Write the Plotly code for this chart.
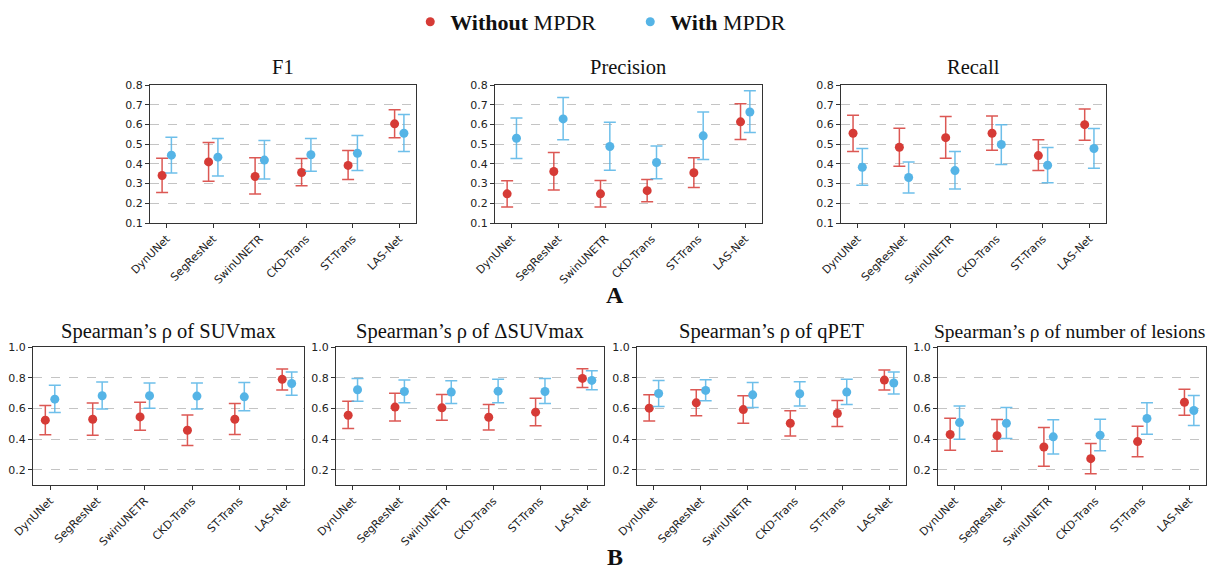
import plotly.graph_objects as go

models = ["DynUNet", "SegResNet", "SwinUNETR", "CKD-Trans", "ST-Trans", "LAS-Net"]

# ---- Row A ----
f1_wo_mean = [0.341, 0.410, 0.336, 0.356, 0.392, 0.603]
f1_wo_lo = [0.255, 0.312, 0.247, 0.289, 0.321, 0.532]
f1_wo_hi = [0.429, 0.508, 0.431, 0.427, 0.468, 0.675]
f1_w_mean = [0.444, 0.434, 0.419, 0.446, 0.454, 0.555]
f1_w_lo = [0.353, 0.339, 0.323, 0.363, 0.366, 0.463]
f1_w_hi = [0.535, 0.528, 0.518, 0.528, 0.544, 0.650]

prec_wo_mean = [0.248, 0.361, 0.248, 0.264, 0.355, 0.613]
prec_wo_lo = [0.181, 0.267, 0.181, 0.208, 0.280, 0.523]
prec_wo_hi = [0.314, 0.458, 0.316, 0.321, 0.431, 0.705]
prec_w_mean = [0.530, 0.628, 0.488, 0.407, 0.542, 0.663]
prec_w_lo = [0.427, 0.522, 0.368, 0.324, 0.422, 0.559]
prec_w_hi = [0.633, 0.737, 0.611, 0.491, 0.663, 0.771]

rec_wo_mean = [0.555, 0.484, 0.533, 0.555, 0.442, 0.599]
rec_wo_lo = [0.463, 0.388, 0.429, 0.469, 0.366, 0.520]
rec_wo_hi = [0.646, 0.581, 0.640, 0.643, 0.522, 0.678]
rec_w_mean = [0.383, 0.331, 0.366, 0.498, 0.393, 0.478]
rec_w_lo = [0.292, 0.252, 0.272, 0.397, 0.304, 0.378]
rec_w_hi = [0.478, 0.410, 0.463, 0.599, 0.483, 0.579]

# ---- Row B ----
suv_wo_mean = [0.523, 0.529, 0.544, 0.457, 0.529, 0.789]
suv_wo_lo = [0.427, 0.425, 0.457, 0.357, 0.429, 0.719]
suv_wo_hi = [0.619, 0.634, 0.640, 0.557, 0.632, 0.856]
suv_w_mean = [0.660, 0.682, 0.682, 0.680, 0.675, 0.762]
suv_w_lo = [0.573, 0.595, 0.601, 0.595, 0.584, 0.686]
suv_w_hi = [0.751, 0.771, 0.765, 0.765, 0.769, 0.837]

dsuv_wo_mean = [0.555, 0.608, 0.603, 0.542, 0.575, 0.795]
dsuv_wo_lo = [0.468, 0.518, 0.523, 0.459, 0.486, 0.736]
dsuv_wo_hi = [0.647, 0.699, 0.690, 0.625, 0.666, 0.858]
dsuv_w_mean = [0.721, 0.710, 0.706, 0.712, 0.710, 0.782]
dsuv_w_lo = [0.647, 0.636, 0.632, 0.636, 0.632, 0.721]
dsuv_w_hi = [0.795, 0.784, 0.780, 0.789, 0.795, 0.845]

qpet_wo_mean = [0.601, 0.636, 0.592, 0.503, 0.566, 0.784]
qpet_wo_lo = [0.518, 0.551, 0.503, 0.420, 0.481, 0.719]
qpet_wo_hi = [0.688, 0.721, 0.682, 0.584, 0.651, 0.850]
qpet_w_mean = [0.697, 0.717, 0.688, 0.695, 0.706, 0.765]
qpet_w_lo = [0.612, 0.649, 0.605, 0.616, 0.625, 0.693]
qpet_w_hi = [0.782, 0.786, 0.769, 0.773, 0.789, 0.837]

les_wo_mean = [0.429, 0.422, 0.348, 0.272, 0.383, 0.640]
les_wo_lo = [0.326, 0.320, 0.222, 0.174, 0.285, 0.555]
les_wo_hi = [0.536, 0.527, 0.475, 0.370, 0.483, 0.725]
les_w_mean = [0.507, 0.503, 0.414, 0.425, 0.534, 0.586]
les_w_lo = [0.398, 0.403, 0.302, 0.324, 0.431, 0.488]
les_w_hi = [0.616, 0.605, 0.525, 0.529, 0.636, 0.684]

top_ticks = [0.1, 0.2, 0.3, 0.4, 0.5, 0.6, 0.7, 0.8]
bottom_ticks = [0.2, 0.4, 0.6, 0.8, 1.0]

W, H = 1212, 570
RED = "#d63b36"
BLUE = "#55b4e6"
RED_BAR = "rgba(214,59,54,0.85)"
BLUE_BAR = "rgba(85,180,230,0.85)"

panels = [
    dict(title="F1", px=(150, 416), py=(85, 223), ty=67, tx=283, ts=20.5, rng=[0.1, 0.8], ticks=top_ticks,
         wo=(f1_wo_mean, f1_wo_lo, f1_wo_hi), w=(f1_w_mean, f1_w_lo, f1_w_hi)),
    dict(title="Precision", px=(495, 762), py=(85, 223), ty=67, tx=628, ts=20.5, rng=[0.1, 0.8], ticks=top_ticks,
         wo=(prec_wo_mean, prec_wo_lo, prec_wo_hi), w=(prec_w_mean, prec_w_lo, prec_w_hi)),
    dict(title="Recall", px=(841, 1106), py=(85, 223), ty=67, tx=973, ts=20.5, rng=[0.1, 0.8], ticks=top_ticks,
         wo=(rec_wo_mean, rec_wo_lo, rec_wo_hi), w=(rec_w_mean, rec_w_lo, rec_w_hi)),
    dict(title="Spearman’s ρ of SUVmax", px=(33, 304), py=(347, 485), ty=331, tx=168, ts=20.5, rng=[0.1, 1.0], ticks=bottom_ticks,
         wo=(suv_wo_mean, suv_wo_lo, suv_wo_hi), w=(suv_w_mean, suv_w_lo, suv_w_hi)),
    dict(title="Spearman’s ρ of ΔSUVmax", px=(336, 604), py=(347, 485), ty=331, tx=470, ts=20.5, rng=[0.1, 1.0], ticks=bottom_ticks,
         wo=(dsuv_wo_mean, dsuv_wo_lo, dsuv_wo_hi), w=(dsuv_w_mean, dsuv_w_lo, dsuv_w_hi)),
    dict(title="Spearman’s ρ of qPET", px=(637, 906), py=(347, 485), ty=331, tx=771, ts=20.5, rng=[0.1, 1.0], ticks=bottom_ticks,
         wo=(qpet_wo_mean, qpet_wo_lo, qpet_wo_hi), w=(qpet_w_mean, qpet_w_lo, qpet_w_hi)),
    dict(title="Spearman’s ρ of number of lesions", px=(938, 1206), py=(347, 485), ty=331, tx=1069, ts=19.5, rng=[0.1, 1.0], ticks=bottom_ticks,
         wo=(les_wo_mean, les_wo_lo, les_wo_hi), w=(les_w_mean, les_w_lo, les_w_hi)),
]

fig = go.Figure()
layout = {}
annotations = []
TICKFONT = dict(family="DejaVu Sans", size=11, color="#222")
SERIF = "Liberation Serif"

for k, p in enumerate(panels):
    n = "" if k == 0 else str(k + 1)
    xa, ya = "x" + n, "y" + n
    idx = list(range(len(models)))
    for key, off, col, barcol, name in [("wo", -0.1, RED, RED_BAR, "<b>Without</b> MPDR"),
                                        ("w", 0.1, BLUE, BLUE_BAR, "<b>With</b> MPDR")]:
        mean, lo, hi = p[key]
        fig.add_trace(go.Scatter(
            x=[i + off for i in idx], y=mean, mode="markers", name=name,
            showlegend=(k == 0), legendgroup=key,
            marker=dict(color=col, size=9),
            error_y=dict(type="data", symmetric=False,
                         array=[h - m for h, m in zip(hi, mean)],
                         arrayminus=[m - l for m, l in zip(mean, lo)],
                         color=barcol, thickness=1.5, width=6),
            xaxis=xa, yaxis=ya,
        ))
    layout["xaxis" + n] = dict(
        domain=[p["px"][0] / W, p["px"][1] / W], anchor=ya, automargin=False,
        range=[-0.36, 5.36], tickmode="array", tickvals=idx, ticktext=models,
        tickangle=-45, tickfont=TICKFONT, showgrid=False, zeroline=False,
        showline=True, linecolor="#333", linewidth=1, mirror=True,
        ticks="outside", ticklen=4, tickcolor="#333",
    )
    layout["yaxis" + n] = dict(
        domain=[1 - p["py"][1] / H, 1 - p["py"][0] / H], anchor=xa, automargin=False,
        range=p["rng"], tickmode="array", tickvals=p["ticks"],
        ticktext=["%.1f" % t for t in p["ticks"]], tickfont=TICKFONT,
        showgrid=True, gridcolor="#c4c4c4", griddash="dash", gridwidth=1,
        zeroline=False, showline=True, linecolor="#333", linewidth=1, mirror=True,
        ticks="outside", ticklen=4, tickcolor="#333",
    )
    annotations.append(dict(
        text=p["title"], x=p["tx"] / W, y=1 - p["ty"] / H,
        xref="paper", yref="paper", xanchor="center", yanchor="middle",
        showarrow=False, font=dict(family=SERIF, size=p["ts"], color="#111"),
    ))

annotations.append(dict(text="<b>A</b>", x=615 / W, y=1 - 295 / H, xref="paper", yref="paper",
                        showarrow=False, xanchor="center", yanchor="middle",
                        font=dict(family=SERIF, size=24, color="#111")))
annotations.append(dict(text="<b>B</b>", x=615 / W, y=1 - 557 / H, xref="paper", yref="paper",
                        showarrow=False, xanchor="center", yanchor="middle",
                        font=dict(family=SERIF, size=24, color="#111")))

fig.update_layout(
    width=W, height=H, margin=dict(l=0, r=0, t=0, b=0, autoexpand=False),
    paper_bgcolor="white", plot_bgcolor="white",
    annotations=annotations,
    legend=dict(orientation="h", x=0.52, xanchor="center", y=1 - 22 / H, yanchor="middle",
                font=dict(family=SERIF, size=22, color="#111"), entrywidth=175,
                bgcolor="rgba(0,0,0,0)"),
    **layout,
)

fig.write_html("out.html", config={"displayModeBar": False},
               post_script="document.body.style.margin='0px';document.body.style.overflow='hidden';")
